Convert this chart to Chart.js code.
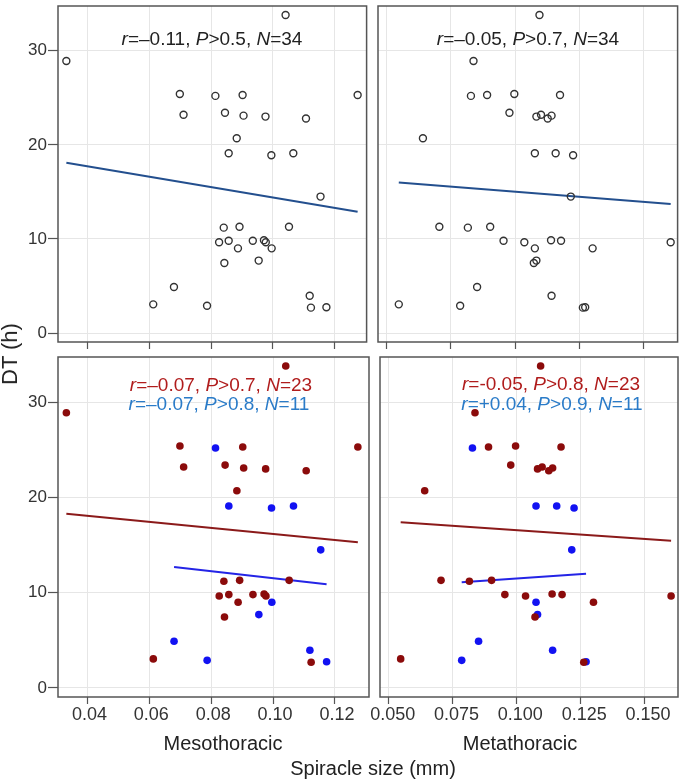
<!DOCTYPE html>
<html>
<head>
<meta charset="utf-8">
<script src="https://cdn.jsdelivr.net/npm/chart.js@4.4.1/dist/chart.umd.min.js"></script>
<style>
  body { margin: 0; background: #fff; font-family: 'Liberation Sans', Arial, sans-serif; }
  #wrap { position: relative; width: 683px; height: 782px; overflow: hidden; }
  canvas { position: absolute; }
  .txt { position: absolute; white-space: nowrap; line-height: 1; transform: translate(-50%, -50%); }
  .note { font-size: 19px; }
  .lab { font-size: 20px; color: #222; }
</style>
</head>
<body>
<div id="wrap">
  <canvas id="tl" width="372" height="352" style="left:0;top:0"></canvas>
  <canvas id="tr" width="311" height="352" style="left:372px;top:0"></canvas>
  <canvas id="bl" width="374" height="430" style="left:0;top:352px"></canvas>
  <canvas id="br" width="321" height="430" style="left:362px;top:352px"></canvas>

  <div class="txt note" style="left:212px;top:38px;color:#222"><i>r</i>=–0.11, <i>P</i>&gt;0.5, <i>N</i>=34</div>
  <div class="txt note" style="left:528px;top:38px;color:#222"><i>r</i>=–0.05, <i>P</i>&gt;0.7, <i>N</i>=34</div>
  <div class="txt note" style="left:221px;top:384px;color:#b01c1c"><i>r</i>=–0.07, <i>P</i>&gt;0.7, <i>N</i>=23</div>
  <div class="txt note" style="left:219px;top:403px;color:#2a7bc8"><i>r</i>=–0.07, <i>P</i>&gt;0.8, <i>N</i>=11</div>
  <div class="txt note" style="left:551px;top:383px;color:#b01c1c"><i>r</i>=-0.05, <i>P</i>&gt;0.8, <i>N</i>=23</div>
  <div class="txt note" style="left:552px;top:403px;color:#2a7bc8"><i>r</i>=+0.04, <i>P</i>&gt;0.9, <i>N</i>=11</div>

  <div class="txt lab" style="left:223px;top:743px">Mesothoracic</div>
  <div class="txt lab" style="left:520px;top:743px">Metathoracic</div>
  <div class="txt lab" style="left:373px;top:768px">Spiracle size (mm)</div>
  <div class="txt lab" style="left:10px;top:354px;font-size:22px;transform:translate(-50%,-50%) rotate(-90deg)">DT (h)</div>
</div>

<script>
// one entry per insect
var dtHours = [33.8, 28.9, 25.4, 25.2, 25.3, 25.3, 23.4, 23.2, 23.1, 23.0, 22.8, 20.7,
               19.1, 18.9, 19.1, 14.5, 11.3, 11.2, 11.3, 9.65, 9.8, 9.0, 9.8, 9.86,
               9.65, 9.0, 7.45, 7.7, 3.05, 4.9, 2.9, 3.96, 2.7, 2.75];
var mesoSize = [0.1041, 0.0332, 0.0699, 0.0814, 0.0902, 0.1274, 0.0845, 0.0711, 0.0905, 0.0976, 0.1107, 0.0883,
                0.0857, 0.0995, 0.1066, 0.1154, 0.1052, 0.0841, 0.0892, 0.0826, 0.0857, 0.0887, 0.0935, 0.0971,
                0.0977, 0.0996, 0.0843, 0.0954, 0.0613, 0.0680, 0.0787, 0.1119, 0.1123, 0.1173];
var metaSize = [0.1095, 0.0838, 0.0997, 0.0828, 0.0891, 0.1175, 0.0978, 0.1101, 0.1142, 0.1083, 0.1127, 0.0641,
                0.1077, 0.1226, 0.1158, 0.1217, 0.0705, 0.0816, 0.0903, 0.1036, 0.0955, 0.1302, 0.1179, 0.1140,
                0.1606, 0.1077, 0.1073, 0.1083, 0.0547, 0.0852, 0.0786, 0.1142, 0.1264, 0.1273];
// r = red group, b = blue group
var group = ['r','r','r','b','r','r','r','r','r','r','r','r',
             'b','b','b','b','r','r','r','r','r','r','r','r',
             'r','b','r','b','r','b','b','b','r','b'];

// fitted line values (DT) at the smallest and largest size of each set
var fitMesoAll = [18.1, 12.9];
var fitMetaAll = [16.0, 13.7];
var fitMesoRed = [18.3, 15.3];
var fitMesoBlue = [12.7, 10.9];
var fitMetaRed = [17.4, 15.45];
var fitMetaBlue = [11.1, 12.0];

var dtTicks = [0, 10, 20, 30];
var mesoTicks = [0.04, 0.06, 0.08, 0.10, 0.12];
var mesoTickLabels = ['0.04', '0.06', '0.08', '0.10', '0.12'];
var metaTicks = [0.05, 0.075, 0.10, 0.125, 0.15];
var metaTickLabels = ['0.050', '0.075', '0.100', '0.125', '0.150'];

var FONT = "'Liberation Sans', Arial, sans-serif";
var navy = '#234f8e', darkRed = '#8b0b0b', blue = '#1212f2';

function points(xs, g) {
    var out = [];
    for (let i = 0; i < xs.length; i++) {
        if (!g || group[i] === g) out.push({x: xs[i], y: dtHours[i]});
    }
    return out;
}

function fitLine(xs, g, ends) {
    var sel = points(xs, g).map(p => p.x);
    return [{x: Math.min.apply(null, sel), y: ends[0]}, {x: Math.max.apply(null, sel), y: ends[1]}];
}

function lineSet(data, color) {
    return {data: data, showLine: true, borderColor: color, borderWidth: 2, pointRadius: 0, order: 2};
}

// draw the box round each panel
var frame = {
    id: 'frame',
    afterDatasetsDraw(chart) {
        var a = chart.chartArea, c = chart.ctx;
        c.save();
        c.strokeStyle = '#555';
        c.lineWidth = 1.5;
        c.strokeRect(a.left, a.top, a.right - a.left, a.bottom - a.top);
        c.restore();
    }
};

function makeChart(id, o) {
    new Chart(document.getElementById(id), {
        type: 'scatter',
        data: {datasets: o.datasets},
        plugins: [frame],
        options: {
            responsive: false,
            animation: false,
            events: [],
            layout: {padding: o.pad},
            plugins: {legend: {display: false}, tooltip: {enabled: false}},
            scales: {
                x: {
                    type: 'linear', min: o.xMin, max: o.xMax,
                    afterBuildTicks: s => { s.ticks = o.xTicks.map(v => ({value: v})); },
                    ticks: {
                        display: !!o.xLabels,
                        callback: (v, i) => o.xLabels ? o.xLabels[i] : '',
                        font: {family: FONT, size: 18}, color: '#333',
                        padding: 0, labelOffset: o.xOff || 0, maxRotation: 0, autoSkip: false
                    },
                    grid: {color: '#e6e6e6', tickColor: '#555', tickLength: 7, tickWidth: 1.2},
                    border: {display: false},
                    afterFit: s => { s.height = o.xH; s.paddingLeft = 0; s.paddingRight = 0; }
                },
                y: {
                    type: 'linear', min: -0.95, max: 34.75,
                    afterBuildTicks: s => { s.ticks = dtTicks.map(v => ({value: v})); },
                    ticks: {
                        display: o.yLabels,
                        font: {family: FONT, size: 17}, color: '#333', padding: 1
                    },
                    grid: {color: '#e6e6e6', tickColor: '#555', tickLength: 10, tickWidth: 1.2, drawTicks: o.yLabels},
                    border: {display: false},
                    afterFit: s => { s.width = o.yLabels ? 58 : 0; s.paddingTop = 0; s.paddingBottom = 0; }
                }
            }
        }
    });
}

var hollow = {pointRadius: 3.5, pointBackgroundColor: 'rgba(0,0,0,0)', pointBorderColor: '#333', pointBorderWidth: 1.4, order: 1};

makeChart('tl', {
    datasets: [
        Object.assign({data: points(mesoSize)}, hollow),
        lineSet(fitLine(mesoSize, null, fitMesoAll), navy)
    ],
    pad: {top: 6, right: 5, left: 0, bottom: 0},
    xMin: 0.0305, xMax: 0.1303, xTicks: mesoTicks, xH: 10, yLabels: true
});

makeChart('tr', {
    datasets: [
        Object.assign({data: points(metaSize)}, hollow),
        lineSet(fitLine(metaSize, null, fitMetaAll), navy)
    ],
    pad: {top: 6, right: 5, left: 6, bottom: 0},
    xMin: 0.0466, xMax: 0.1633, xTicks: metaTicks, xH: 10, yLabels: false
});

makeChart('bl', {
    datasets: [
        {data: points(mesoSize, 'r'), pointRadius: 3.8, pointBackgroundColor: darkRed, pointBorderWidth: 0, order: 1},
        {data: points(mesoSize, 'b'), pointRadius: 3.8, pointBackgroundColor: blue, pointBorderWidth: 0, order: 1},
        lineSet(fitLine(mesoSize, 'r', fitMesoRed), '#8b1a1a'),
        lineSet(fitLine(mesoSize, 'b', fitMesoBlue), '#2424e6')
    ],
    pad: {top: 5, right: 5, left: 0, bottom: 0},
    xMin: 0.0305, xMax: 0.131, xTicks: mesoTicks, xLabels: mesoTickLabels, xOff: 2, xH: 85, yLabels: true
});

makeChart('br', {
    datasets: [
        {data: points(metaSize, 'r'), pointRadius: 3.8, pointBackgroundColor: darkRed, pointBorderWidth: 0, order: 1},
        {data: points(metaSize, 'b'), pointRadius: 3.8, pointBackgroundColor: blue, pointBorderWidth: 0, order: 1},
        lineSet(fitLine(metaSize, 'r', fitMetaRed), '#8b1a1a'),
        lineSet(fitLine(metaSize, 'b', fitMetaBlue), '#2424e6')
    ],
    pad: {top: 5, right: 5, left: 18, bottom: 0},
    xMin: 0.0466, xMax: 0.1633, xTicks: metaTicks, xLabels: metaTickLabels, xOff: 4, xH: 85, yLabels: false
});
</script>
</body>
</html>
